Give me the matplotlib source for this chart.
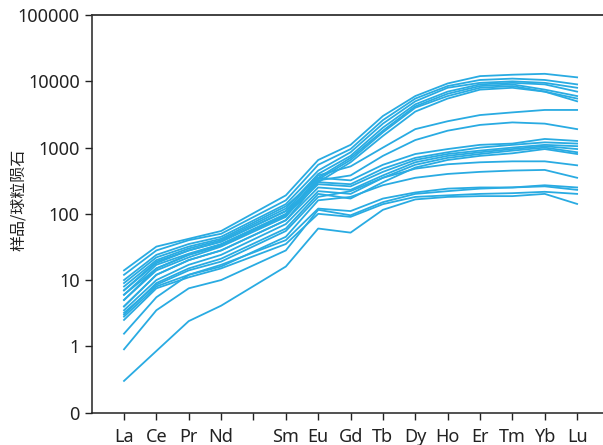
import numpy as np
import matplotlib
matplotlib.use("Agg")
import matplotlib.pyplot as plt

plt.rcParams['font.family'] = ['Noto Sans', 'Noto Sans CJK SC', 'DejaVu Sans']

# REE order (Pm left empty)
elements = ['La', 'Ce', 'Pr', 'Nd', '', 'Sm', 'Eu', 'Gd', 'Tb', 'Dy', 'Ho', 'Er', 'Tm', 'Yb', 'Lu']
used = ['La', 'Ce', 'Pr', 'Nd', 'Sm', 'Eu', 'Gd', 'Tb', 'Dy', 'Ho', 'Er', 'Tm', 'Yb', 'Lu']

# chondrite-normalised values
high_hree = [
    [14, 32, 42, 55, 190, 650, 1100, 3000, 6000, 9300, 12000, 12600, 13000, 11500],
    [12, 28, 40, 50, 160, 550, 950, 2600, 5500, 8500, 10500, 11000, 10500, 9000],
    [10, 24, 35, 45, 140, 450, 850, 2300, 5000, 8000, 9500, 10000, 9500, 8000],
    [8, 20, 30, 40, 120, 400, 750, 2000, 4500, 7000, 9000, 9500, 9000, 7000],
    [6, 17, 25, 35, 100, 350, 700, 1800, 4200, 6500, 8500, 9000, 7500, 6000],
    [5, 14, 22, 32, 90, 330, 650, 1700, 4000, 6000, 8000, 8500, 7000, 5500],
    [4, 12, 20, 28, 80, 300, 600, 1500, 3500, 5500, 7500, 8000, 7000, 5000],
]
mid_hree = [
    [7, 18, 28, 38, 110, 380, 520, 1000, 1900, 2500, 3100, 3400, 3700, 3700],
    [6, 15, 24, 34, 95, 320, 380, 750, 1300, 1800, 2200, 2400, 2300, 1900],
]
low_hree = [
    [9, 22, 32, 42, 130, 350, 320, 550, 800, 950, 1100, 1150, 1350, 1260],
    [7, 19, 28, 38, 110, 300, 280, 480, 700, 850, 1000, 1100, 1200, 1150],
    [5, 15, 24, 33, 95, 280, 260, 430, 650, 800, 900, 1000, 1100, 1050],
    [4, 12, 20, 28, 80, 250, 230, 380, 600, 750, 850, 950, 1050, 950],
    [3.5, 10, 17, 24, 70, 220, 200, 350, 550, 700, 800, 900, 1000, 850],
    [3, 9, 15, 21, 60, 200, 170, 300, 500, 650, 750, 820, 950, 800],
    [3.2, 8.5, 14, 19, 55, 180, 220, 350, 480, 560, 600, 620, 620, 540],
    [2.8, 8, 12, 16, 45, 160, 180, 270, 350, 400, 430, 450, 460, 350],
]
lowest = [
    [1.55, 5.5, 12, 17, 40, 120, 110, 170, 210, 240, 250, 250, 270, 250],
    [0.9, 3.5, 7.5, 10, 28, 115, 95, 150, 200, 220, 240, 250, 260, 230],
    [2.5, 7.5, 11, 15, 35, 100, 90, 140, 180, 190, 200, 205, 215, 200],
    [0.3, 0.85, 2.4, 4.1, 16, 60, 52, 115, 165, 180, 185, 185, 200, 141],
]

samples = high_hree + mid_hree + low_hree + lowest
xpos = [elements.index(e) + 1 for e in used]

fig = plt.figure(figsize=(6.03, 4.45), dpi=100)
ax = fig.add_axes([0.152, 0.073, 0.848, 0.893])

for s in samples:
    ax.plot(xpos, s, color='#29ABE2', lw=1.3)

ax.set_yscale('log')
ax.set_ylim(0.1, 100000)
ax.set_xlim(0, 15.8)
yt = [0.1, 1, 10, 100, 1000, 10000, 100000]
ax.set_yticks(yt)
ax.set_yticklabels(['0', '1', '10', '100', '1000', '10000', '100000'])
ax.yaxis.set_minor_locator(matplotlib.ticker.NullLocator())
ax.set_xticks(range(1, 16))
ax.set_xticklabels(elements)
ax.tick_params(axis='both', direction='out', length=5, width=1, labelsize=13, colors='#222222')
ax.tick_params(axis='x', pad=6)

ax.spines['right'].set_visible(False)
for sp in ['left', 'bottom']:
    ax.spines[sp].set_color('#222222')
    ax.spines[sp].set_linewidth(1.1)
ax.spines['top'].set_color('#333333')
ax.spines['top'].set_linewidth(1.3)

fig.text(0.03, 0.55, '样品/球粒陨石', rotation=90, ha='center', va='center',
         fontsize=11.5, family=['Noto Sans CJK SC', 'DejaVu Sans'], color='#222222')

fig.savefig('out.png', dpi=100)
